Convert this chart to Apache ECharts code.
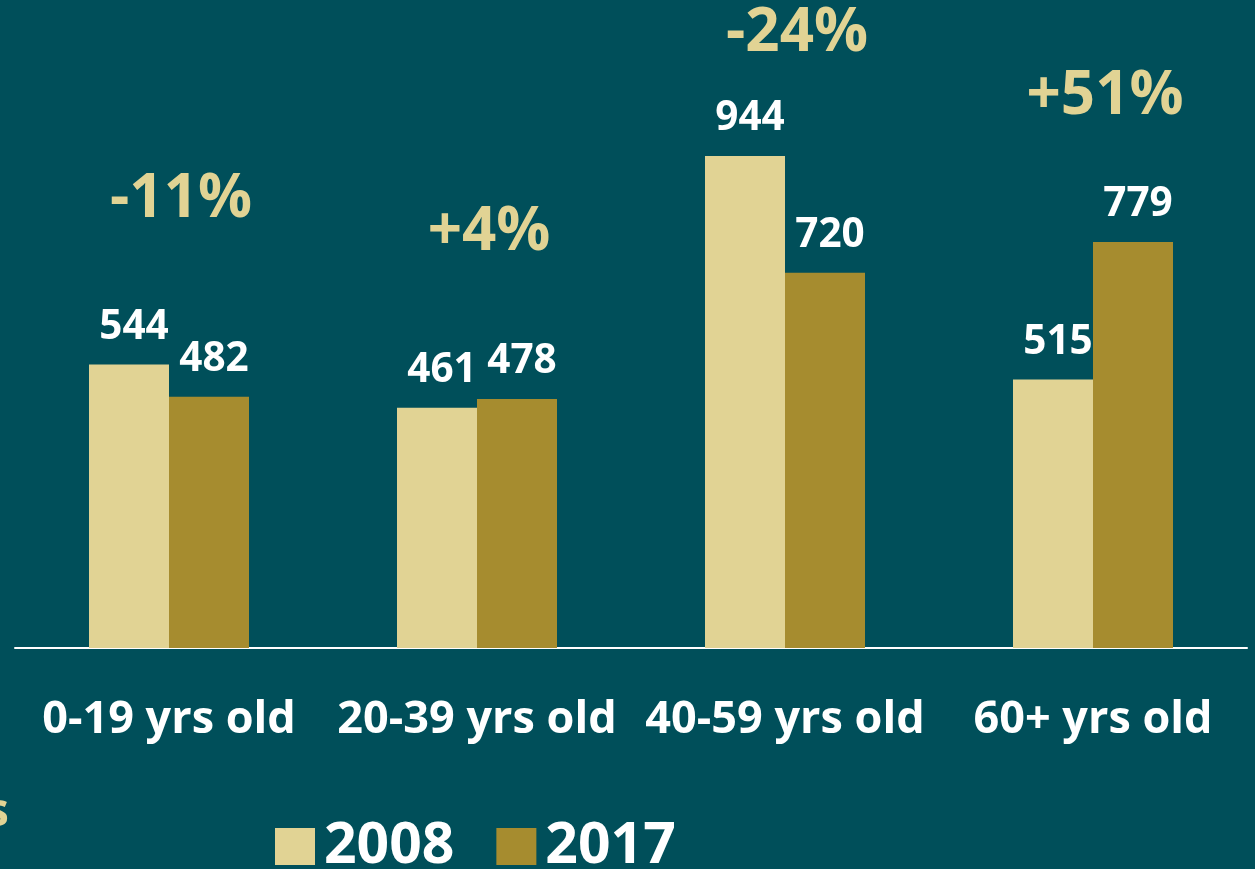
<!DOCTYPE html>
<html>
<head>
<meta charset="utf-8">
<script src="https://cdn.jsdelivr.net/npm/echarts@6/dist/echarts.min.js"></script>
<style>
  html, body { margin: 0; padding: 0; background: #004f5a; }
  #chart { width: 1255px; height: 869px; }
</style>
</head>
<body>
<div id="chart"></div>
<script>
// data
const categories = ["0-19 yrs old", "20-39 yrs old", "40-59 yrs old", "60+ yrs old"];
const values2008 = [544, 461, 944, 515];
const values2017 = [482, 478, 720, 779];
const changeLabels = ["-11%", "+4%", "-24%", "+51%"];
// where each change label sits, in axis units
const changeLevels = [860, 796, 1178, 1057];

const chart = echarts.init(document.getElementById("chart"));

const barLabel = {
  show: true,
  position: "top",
  distance: 8,
  offset: [5, -9],
  color: "#ffffff",
  fontFamily: "Open Sans",
  fontWeight: "bold",
  fontSize: 40.5
};

const option = {
  backgroundColor: "#004f5a",
  animation: false,
  grid: { left: 15, right: 8, top: 22.6, bottom: 221 },
  legend: {
    data: ["2008", "2017"],
    left: 270,
    top: 813,
    itemWidth: 40,
    itemHeight: 37,
    itemGap: 42,
    icon: "rect",
    textStyle: {
      color: "#ffffff",
      fontFamily: "Open Sans",
      fontWeight: "bold",
      fontSize: 57,
      padding: [0, 0, 0, 4]
    }
  },
  xAxis: {
    type: "category",
    data: categories,
    axisLine: { lineStyle: { color: "#ffffff", width: 2 } },
    axisTick: { show: false },
    axisLabel: {
      interval: 0,
      color: "#ffffff",
      fontFamily: "Open Sans",
      fontWeight: "bold",
      fontSize: 45,
      margin: 50
    }
  },
  yAxis: {
    type: "value",
    min: 0,
    max: 1200,
    show: false,
    splitLine: { show: false }
  },
  series: [
    {
      name: "2008",
      type: "bar",
      data: values2008,
      barWidth: 80,
      barGap: "0%",
      itemStyle: { color: "#e1d394" },
      label: barLabel
    },
    {
      name: "2017",
      type: "bar",
      data: values2017,
      barWidth: 80,
      itemStyle: { color: "#a68c2f" },
      label: barLabel
    },
    {
      name: "change",
      type: "scatter",
      data: changeLevels,
      symbolSize: 0,
      silent: true,
      itemStyle: { opacity: 1 },
      label: {
        show: true,
        position: "inside",
        offset: [12, 0],
        formatter: (p) => changeLabels[p.dataIndex],
        color: "#e1d394",
        opacity: 1,
        fontFamily: "Open Sans",
        fontWeight: "bold",
        fontSize: 60
      }
    }
  ],
  graphic: [
    {
      type: "text",
      left: -14,
      top: 790,
      style: {
        text: "s",
        fill: "#e1d394",
        font: "bold 46px 'Open Sans'"
      }
    }
  ]
};

chart.setOption(option);
</script>
</body>
</html>
